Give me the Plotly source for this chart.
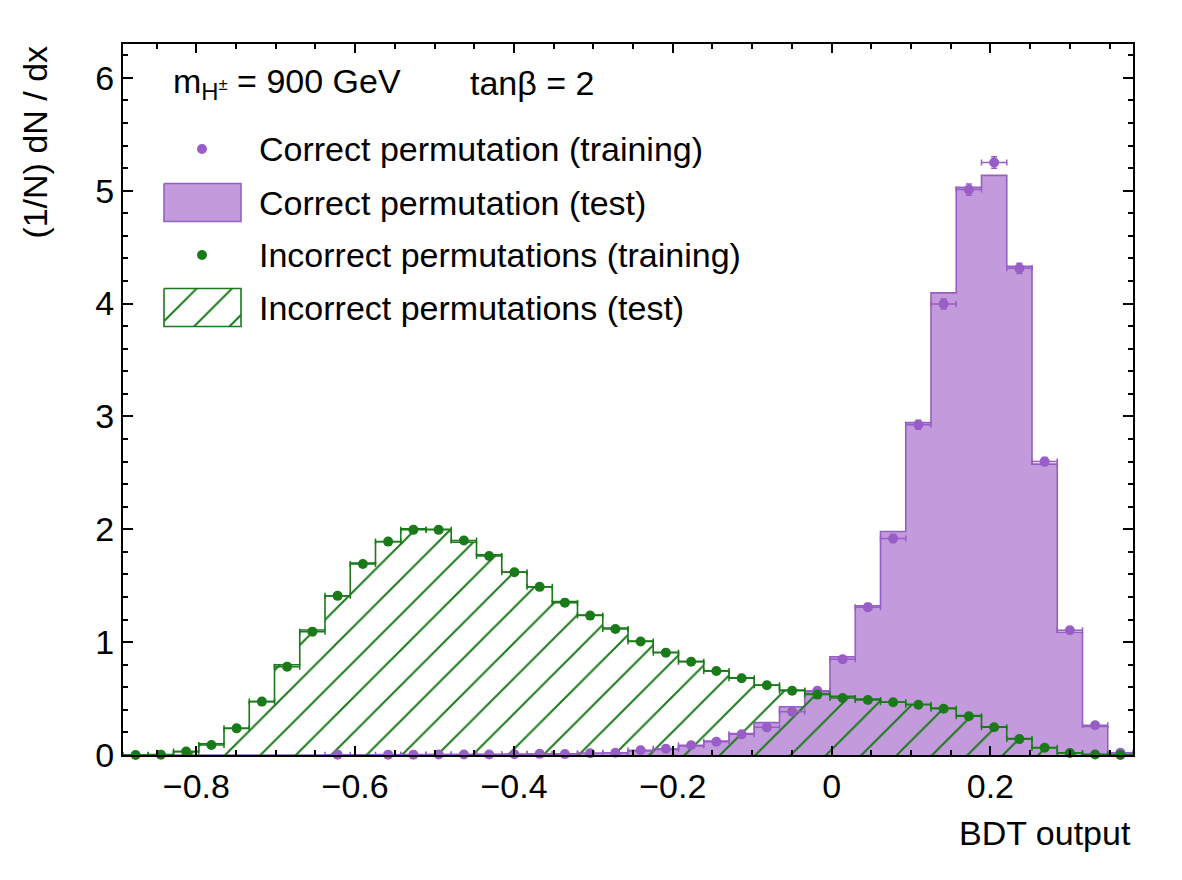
import plotly.graph_objects as go

# ---------------- data ----------------
XMIN = -0.8924
XMAX = 0.3796
NBINS = 40

correct_train = [None, None, None, None, None, None, None, None,
                 0.003, None, 0.003, 0.003, 0.004, 0.004, 0.005, 0.006, 0.010, 0.008,
                 0.015, 0.020, 0.042, 0.056, 0.086, 0.117, 0.183, 0.245, 0.384, 0.570,
                 0.848, 1.310, 1.918, 2.927, 3.996, 5.010, 5.250, 4.312, 2.600, 1.105,
                 0.263, 0.020]
correct_train_err = [0, 0, 0, 0, 0, 0, 0, 0,
                     0.003, 0, 0.003, 0.003, 0.003, 0.003, 0.003, 0.003, 0.004, 0.004,
                     0.005, 0.005, 0.007, 0.008, 0.010, 0.012, 0.014, 0.016, 0.020, 0.024,
                     0.028, 0.032, 0.036, 0.040, 0.045, 0.050, 0.052, 0.046, 0.036, 0.024,
                     0.012, 0.004]
correct_test = [0, 0, 0, 0, 0, 0, 0, 0,
                0.002, 0.002, 0.003, 0.003, 0.004, 0.005, 0.006, 0.007, 0.009, 0.010,
                0.015, 0.020, 0.035, 0.050, 0.080, 0.124, 0.190, 0.287, 0.428, 0.560,
                0.870, 1.322, 1.980, 2.945, 4.095, 5.030, 5.136, 4.330, 2.577, 1.087,
                0.253, 0.018]

incorrect_train = [0.000, 0.003, 0.030, 0.089, 0.236, 0.473, 0.783, 1.093, 1.410, 1.693,
                   1.891, 1.995, 1.995, 1.900, 1.764, 1.620, 1.490, 1.350, 1.235, 1.117,
                   1.005, 0.907, 0.827, 0.745, 0.680, 0.618, 0.570, 0.535, 0.505, 0.488,
                   0.467, 0.446, 0.410, 0.344, 0.246, 0.141, 0.064, 0.018, 0.005, 0.001]
incorrect_train_err = [0.001, 0.002, 0.003, 0.004, 0.006, 0.008, 0.010, 0.011, 0.012, 0.013,
                       0.014, 0.014, 0.014, 0.014, 0.013, 0.013, 0.012, 0.012, 0.011, 0.011,
                       0.010, 0.010, 0.009, 0.009, 0.008, 0.008, 0.008, 0.007, 0.007, 0.007,
                       0.007, 0.007, 0.006, 0.006, 0.005, 0.004, 0.003, 0.002, 0.001, 0.001]
incorrect_test = [0.000, 0.005, 0.030, 0.100, 0.236, 0.473, 0.800, 1.108, 1.410, 1.700,
                  1.890, 2.005, 2.000, 1.885, 1.773, 1.620, 1.490, 1.360, 1.240, 1.125,
                  1.010, 0.910, 0.830, 0.745, 0.685, 0.620, 0.575, 0.540, 0.520, 0.495,
                  0.470, 0.450, 0.415, 0.350, 0.250, 0.145, 0.065, 0.020, 0.006, 0.001]

legend_labels = ["Correct permutation (training)", "Correct permutation (test)",
                 "Incorrect permutations (training)", "Incorrect permutations (test)"]
header_left = "m<sub>H<sup>±</sup></sub> = 900 GeV"
header_right = "tanβ = 2"
x_title = "BDT output"
y_title = "(1/N) dN / dx"

# ---------------- styles ----------------
PURPLE_FILL = "#c39bdc"
PURPLE_LINE = "#9560c4"
PURPLE_MARK = "#985dc6"
GREEN = "#1a7a1a"
FONT = "Liberation Sans"
FS = 34
HATCH = dict(shape="/", fgcolor=GREEN, fgopacity=1, bgcolor="rgba(0,0,0,0)",
             size=25, solidity=0.08, fillmode="replace")

# ---------------- derived from data ----------------
w = (XMAX - XMIN) / NBINS
edges = [XMIN + i * w for i in range(NBINS + 1)]
centers = [(edges[i] + edges[i + 1]) / 2 for i in range(NBINS)]
halfw = [(edges[i + 1] - edges[i]) / 2 for i in range(NBINS)]
step_x = [edges[0]] + edges
def step_y(v):
    return [0] + list(v) + [0]

fig = go.Figure()

# purple test histogram (filled)
fig.add_trace(go.Scatter(
    x=step_x, y=step_y(correct_test), mode="lines", line_shape="hv",
    line=dict(color=PURPLE_LINE, width=1.6), fill="tozeroy", fillcolor=PURPLE_FILL,
    hoverinfo="skip"))

# green test histogram (hatched)
fig.add_trace(go.Scatter(
    x=step_x, y=step_y(incorrect_test), mode="lines", line_shape="hv",
    line=dict(color=GREEN, width=1.6), fill="tozeroy", fillcolor="rgba(0,0,0,0)",
    fillpattern=HATCH, hoverinfo="skip"))

# purple training points
fig.add_trace(go.Scatter(
    x=centers, y=correct_train, mode="markers", cliponaxis=False,
    marker=dict(color=PURPLE_MARK, size=10),
    error_x=dict(type="data", array=halfw, color=PURPLE_MARK, thickness=1.5, width=3),
    error_y=dict(type="data", array=correct_train_err, color=PURPLE_MARK, thickness=1.5, width=3)))

# green training points
fig.add_trace(go.Scatter(
    x=centers, y=incorrect_train, mode="markers", cliponaxis=False,
    marker=dict(color=GREEN, size=10),
    error_x=dict(type="data", array=halfw, color=GREEN, thickness=1.5, width=3),
    error_y=dict(type="data", array=incorrect_train_err, color=GREEN, thickness=1.5, width=3)))

# ---------------- legend drawn on an overlay pixel axis ----------------
PW, PH = 1010, 711
box_x0, box_x1 = 41, 118
dot_x = 79
text_x = 134
rows_y = [105, 158.5, 211, 263.5]
box_h = 38

fig.add_trace(go.Scatter(x=[dot_x], y=[rows_y[0]], xaxis="x2", yaxis="y2", mode="markers",
                         marker=dict(color=PURPLE_MARK, size=10), hoverinfo="skip"))
fig.add_trace(go.Scatter(x=[box_x0, box_x1, box_x1, box_x0, box_x0],
                         y=[rows_y[1] - box_h / 2, rows_y[1] - box_h / 2, rows_y[1] + box_h / 2,
                            rows_y[1] + box_h / 2, rows_y[1] - box_h / 2],
                         xaxis="x2", yaxis="y2", mode="lines", fill="toself",
                         fillcolor=PURPLE_FILL, line=dict(color=PURPLE_LINE, width=1.6),
                         hoverinfo="skip"))
fig.add_trace(go.Scatter(x=[dot_x], y=[rows_y[2]], xaxis="x2", yaxis="y2", mode="markers",
                         marker=dict(color=GREEN, size=10), hoverinfo="skip"))
fig.add_trace(go.Scatter(x=[box_x0, box_x1, box_x1, box_x0, box_x0],
                         y=[rows_y[3] - box_h / 2, rows_y[3] - box_h / 2, rows_y[3] + box_h / 2,
                            rows_y[3] + box_h / 2, rows_y[3] - box_h / 2],
                         xaxis="x2", yaxis="y2", mode="lines", fill="toself",
                         fillcolor="rgba(0,0,0,0)", fillpattern=HATCH,
                         line=dict(color=GREEN, width=1.6), hoverinfo="skip"))

annotations = []
for lab, yy in zip(legend_labels, rows_y):
    annotations.append(dict(x=text_x, y=yy, xref="x2", yref="y2", text=lab, showarrow=False,
                            xanchor="left", yanchor="middle", font=dict(size=FS, family=FONT)))
annotations.append(dict(x=48, y=39, xref="x2", yref="y2", text=header_left, showarrow=False,
                        xanchor="left", yanchor="middle", font=dict(size=FS, family=FONT)))
annotations.append(dict(x=344.5, y=39, xref="x2", yref="y2", text=header_right, showarrow=False,
                        xanchor="left", yanchor="middle", font=dict(size=FS, family=FONT)))
annotations.append(dict(x=1, y=-0.1097, xref="paper", yref="paper", text=x_title, showarrow=False,
                        xanchor="right", yanchor="middle", font=dict(size=FS, family=FONT)))
annotations.append(dict(x=-0.088, y=1.0, xref="paper", yref="paper", text=y_title, showarrow=False,
                        textangle=-90, xanchor="center", yanchor="top",
                        font=dict(size=FS, family=FONT)))

axis_common = dict(showgrid=False, zeroline=False, showline=True, linecolor="black", linewidth=2,
                   mirror="allticks", ticks="inside", tickcolor="black", tickwidth=1.5,
                   tickfont=dict(size=FS, family=FONT, color="black"))

fig.update_layout(
    width=1182, height=880,
    margin=dict(l=123, r=49, t=44, b=125),
    paper_bgcolor="white", plot_bgcolor="white",
    font=dict(family=FONT, size=FS, color="black"),
    showlegend=False,
    xaxis=dict(range=[XMIN, XMAX], tick0=0, dtick=0.2, ticklen=9,
               minor=dict(dtick=0.05, ticklen=5, ticks="inside", tickcolor="black", tickwidth=1.5),
               **axis_common),
    yaxis=dict(range=[0, 6.3], tick0=0, dtick=1, ticklen=10,
               minor=dict(dtick=0.2, ticklen=5, ticks="inside", tickcolor="black", tickwidth=1.5),
               **axis_common),
    xaxis2=dict(range=[0, PW], overlaying="x", visible=False, anchor="y2"),
    yaxis2=dict(range=[PH, 0], overlaying="y", visible=False, anchor="x2"),
    annotations=annotations,
)

fig.write_html("out.html")
